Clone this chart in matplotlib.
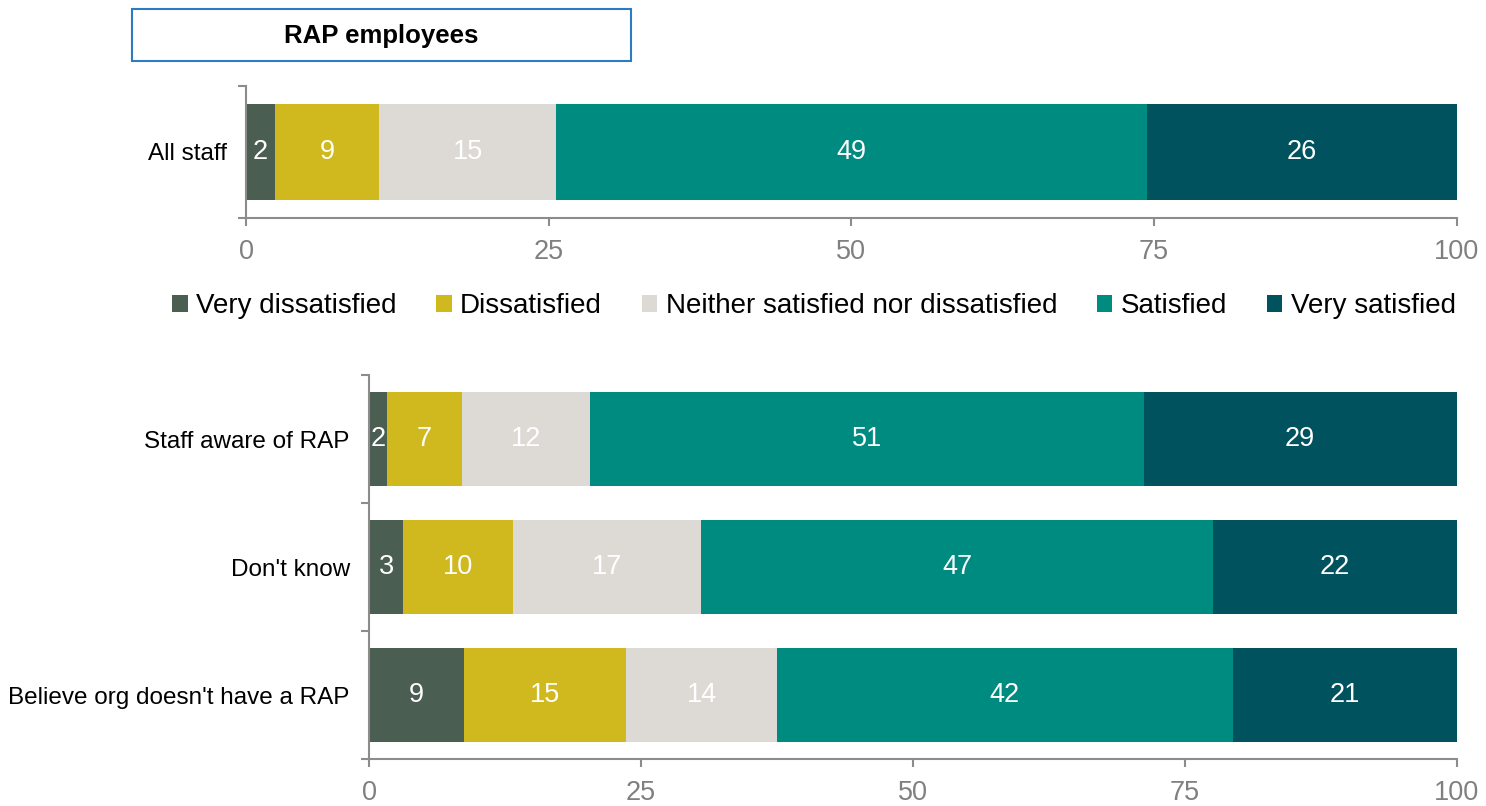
import matplotlib
matplotlib.use("Agg")
import matplotlib.pyplot as plt
from matplotlib.patches import Patch, Rectangle

plt.rcParams['font.family'] = ['Liberation Sans', 'DejaVu Sans']

# Satisfaction levels, in stacking order
levels = ["Very dissatisfied", "Dissatisfied", "Neither satisfied nor dissatisfied",
          "Satisfied", "Very satisfied"]
colors = ["#4B5E52", "#D0B91F", "#DDD9D5", "#008B80", "#00535E"]

# Share of respondents (%) for all staff
all_staff_label = ["All staff"]
all_staff = [2.4, 8.6, 14.6, 48.8, 25.6]

# Share of respondents (%) by RAP awareness
groups = ["Staff aware of RAP", "Don't know", "Believe org doesn't have a RAP"]
very_dissatisfied = [1.6, 3.1, 8.7]
dissatisfied = [6.9, 10.1, 14.9]
neither = [11.8, 17.3, 13.9]
satisfied = [50.9, 47.1, 41.9]
very_satisfied = [28.8, 22.4, 20.6]

x_ticks = [0, 25, 50, 75, 100]

W, H = 1486, 806
fig = plt.figure(figsize=(W / 100, H / 100), dpi=100)

AXIS_GREY = "#8C8C8C"
BAR_H = 0.73


def style_axes(ax, n):
    ax.set_xlim(0, 100)
    ax.set_ylim(n - 0.5, -0.5)
    for s in ("top", "right"):
        ax.spines[s].set_visible(False)
    for s in ("left", "bottom"):
        ax.spines[s].set_color(AXIS_GREY)
        ax.spines[s].set_linewidth(1.5)
    ax.set_xticks(x_ticks)
    ax.set_xticklabels([str(t) for t in x_ticks])
    ax.tick_params(axis="x", length=6, width=1.5, color=AXIS_GREY,
                   labelsize=19.5, labelcolor="#808080", pad=9)
    # boundary ticks between categories, labels centred on the bars
    ax.set_yticks([i - 0.5 for i in range(n + 1)])
    ax.set_yticklabels([])
    ax.tick_params(axis="y", which="major", length=6, width=1.5, color=AXIS_GREY)
    ax.set_yticks(list(range(n)), minor=True)
    ax.tick_params(axis="y", which="minor", length=0, pad=14,
                   labelsize=17.5, labelcolor="black")


def stacked(ax, labels, series):
    y = list(range(len(labels)))
    left = [0.0] * len(labels)
    for vals, col in zip(series, colors):
        bars = ax.barh(y, vals, left=left, height=BAR_H, color=col, linewidth=0)
        for b, v in zip(bars, vals):
            ax.text(b.get_x() + b.get_width() / 2, b.get_y() + b.get_height() / 2,
                    f"{v:.0f}", ha="center", va="center", color="white",
                    fontsize=19.5)
        left = [l + v for l, v in zip(left, vals)]
    ax.set_yticklabels(labels, minor=True)


# Top panel: all staff
ax1 = fig.add_axes([246 / W, 1 - 217.7 / H, (1456.7 - 246) / W, 132 / H])
style_axes(ax1, 1)
stacked(ax1, all_staff_label, [[v] for v in all_staff])

# Bottom panel: by awareness of a RAP
ax2 = fig.add_axes([369.3 / W, 1 - 759.3 / H, (1456.7 - 369.3) / W, (759.3 - 375) / H])
style_axes(ax2, 3)
stacked(ax2, groups, [very_dissatisfied, dissatisfied, neither, satisfied, very_satisfied])

# Boxed heading
fig.patches.append(Rectangle((131.7 / W, 1 - 61 / H), (631 - 131.7) / W, (61 - 9.3) / H,
                             transform=fig.transFigure, facecolor="white",
                             edgecolor="#2E7BC4", linewidth=1.5))
fig.text((131.7 + 631) / 2 / W, 1 - 35.5 / H, "RAP employees", ha="center", va="center",
         fontsize=18.5, fontweight="bold", color="black")

# Shared legend between the panels
handles = [Patch(facecolor=c, edgecolor="none") for c in colors]
fig.legend(handles, levels, loc="center", ncol=5,
           bbox_to_anchor=((172 + 1456) / 2 / W, 1 - 306 / H),
           frameon=False, fontsize=20, handlelength=0.55, handleheight=0.55,
           handletextpad=0.3, columnspacing=1.44, borderpad=0, borderaxespad=0)

fig.savefig("out.png", dpi=100)
